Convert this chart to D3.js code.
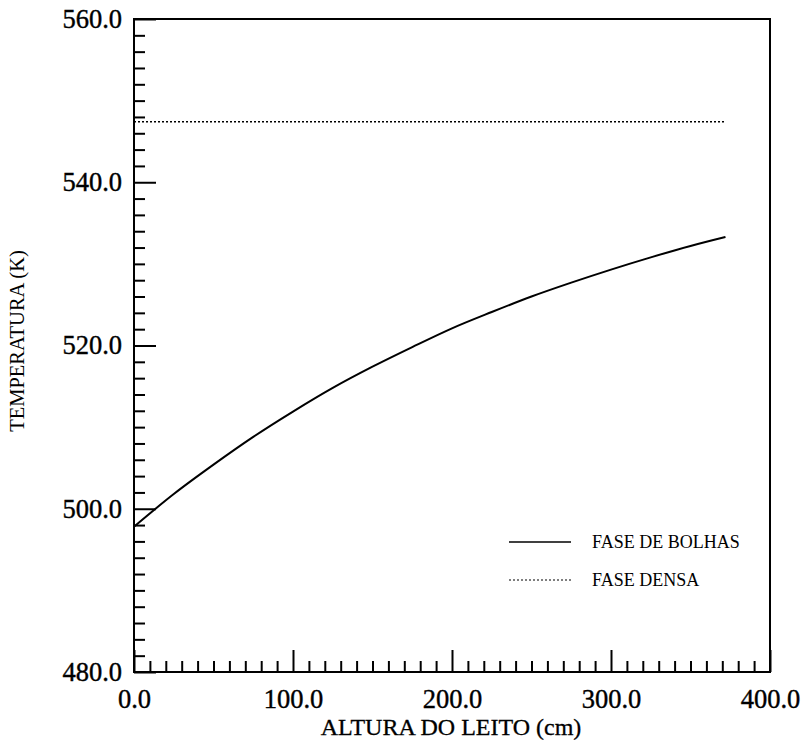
<!DOCTYPE html>
<html>
<head>
<meta charset="utf-8">
<script src="https://cdn.jsdelivr.net/npm/d3@7"></script>
<style>
  body { margin: 0; background: #fff; }
</style>
</head>
<body>
<div id="canvas"></div>
<script>
// data
const alturaBolhas = [0, 25, 50, 75, 100, 125, 150, 175, 200, 225, 250, 275, 300, 325, 350, 372];
const tempBolhas = [497.8, 501.8, 505.4, 508.8, 511.9, 514.8, 517.4, 519.8, 522.1, 524.1, 526.0, 527.7, 529.3, 530.8, 532.2, 533.3];
const alturaDensa = [0, 50, 100, 150, 200, 250, 300, 350, 372];
const tempDensa = [547.4, 547.4, 547.4, 547.4, 547.4, 547.4, 547.4, 547.4, 547.4];
const xTicks = [0, 100, 200, 300, 400];
const yTicks = [480, 500, 520, 540, 560];
const legendLabels = ['FASE DE BOLHAS', 'FASE DENSA'];

const serif = 'Liberation Serif';

const width = 803;
const height = 747;
const margin = { top: 19, right: 33, bottom: 75, left: 134 };

const svg = d3.select('#canvas')
  .append('svg')
  .attr('width', width)
  .attr('height', height);

const x = d3.scaleLinear()
  .domain([0, 400])
  .range([margin.left, width - margin.right]);

const y = d3.scaleLinear()
  .domain([480, 560])
  .range([height - margin.bottom, margin.top]);

const minorX = d3.range(0, 401, 10).filter(v => v % 100 !== 0);
const minorY = d3.range(480, 561, 2).filter(v => v % 20 !== 0);

// frame
svg.append('rect')
  .attr('x', x(0))
  .attr('y', y(560))
  .attr('width', x(400) - x(0))
  .attr('height', y(480) - y(560))
  .attr('fill', 'none')
  .attr('stroke', '#000')
  .attr('stroke-width', 2);

// tick labels look a bit heavy in the scan
function styleLabels(sel) {
  sel.attr('font-family', serif)
    .attr('font-size', 26.5)
    .attr('fill', '#000')
    .attr('stroke', '#000')
    .attr('stroke-width', 0.4);
}

// x axis: labels, major and minor ticks pointing inward
const gx = svg.append('g').attr('transform', `translate(0,${y(480)})`);
gx.append('g')
  .call(d3.axisBottom(x).tickValues(xTicks).tickSize(0).tickPadding(17).tickFormat(d3.format('.1f')))
  .call(g => g.select('.domain').remove())
  .attr('font-family', serif)
  .selectAll('text').call(styleLabels);
gx.append('g')
  .call(d3.axisBottom(x).tickValues(xTicks).tickSize(-22).tickFormat(''))
  .call(g => g.select('.domain').remove())
  .selectAll('line').attr('stroke-width', 2);
gx.append('g')
  .call(d3.axisBottom(x).tickValues(minorX).tickSize(-11).tickFormat(''))
  .call(g => g.select('.domain').remove())
  .selectAll('line').attr('stroke-width', 2);

// y axis
const gy = svg.append('g').attr('transform', `translate(${x(0)},0)`);
gy.append('g')
  .call(d3.axisLeft(y).tickValues(yTicks).tickSize(0).tickPadding(12).tickFormat(d3.format('.1f')))
  .call(g => g.select('.domain').remove())
  .attr('font-family', serif)
  .selectAll('text').call(styleLabels);
gy.append('g')
  .call(d3.axisLeft(y).tickValues(yTicks).tickSize(-22).tickFormat(''))
  .call(g => g.select('.domain').remove())
  .selectAll('line').attr('stroke-width', 2);
gy.append('g')
  .call(d3.axisLeft(y).tickValues(minorY).tickSize(-11).tickFormat(''))
  .call(g => g.select('.domain').remove())
  .selectAll('line').attr('stroke-width', 2);

// axis titles
svg.append('text')
  .attr('x', 451)
  .attr('y', 735)
  .attr('text-anchor', 'middle')
  .attr('font-family', serif)
  .attr('font-size', 24)
  .attr('stroke', '#000')
  .attr('stroke-width', 0.3)
  .text('ALTURA DO LEITO  (cm)');

svg.append('text')
  .attr('transform', 'translate(24,341) rotate(-90)')
  .attr('text-anchor', 'middle')
  .attr('font-family', serif)
  .attr('font-size', 20.5)
  .text('TEMPERATURA (K)');

// curves
const line = d3.line()
  .x(d => x(d[0]))
  .y(d => y(d[1]))
  .curve(d3.curveMonotoneX);

svg.append('path')
  .datum(alturaBolhas.map((a, i) => [a, tempBolhas[i]]))
  .attr('d', line)
  .attr('fill', 'none')
  .attr('stroke', '#000')
  .attr('stroke-width', 2);

svg.append('path')
  .datum(alturaDensa.map((a, i) => [a, tempDensa[i]]))
  .attr('d', line)
  .attr('fill', 'none')
  .attr('stroke', '#000')
  .attr('stroke-width', 1.5)
  .attr('stroke-dasharray', '2,2');

// legend
const legend = svg.append('g').attr('class', 'legend');
const dashes = [null, '2,2'];
legendLabels.forEach((lab, i) => {
  const ly = 542 + i * 38;
  legend.append('line')
    .attr('x1', 509).attr('x2', 571)
    .attr('y1', ly).attr('y2', ly)
    .attr('stroke', '#000')
    .attr('stroke-width', i === 0 ? 1.5 : 1.2)
    .attr('stroke-dasharray', dashes[i]);
  legend.append('text')
    .attr('x', 592)
    .attr('y', ly + 6)
    .attr('font-family', serif)
    .attr('font-size', 18)
    .text(lab);
});
</script>
</body>
</html>
